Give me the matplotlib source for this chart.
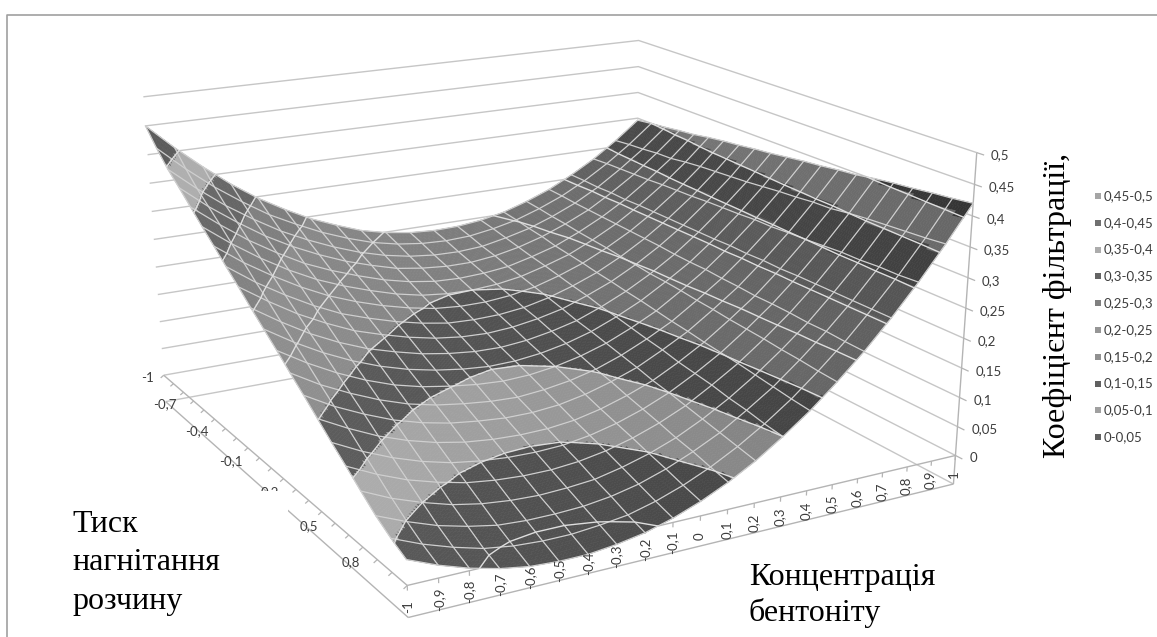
"""
Excel style 3D surface chart, grey bands
"""

import numpy as np
import contourpy
import matplotlib
matplotlib.use("Agg")
import matplotlib.pyplot as plt
from matplotlib.collections import PolyCollection
from matplotlib.patches import Rectangle

# Data
conc = [round(-1 + 0.1 * i, 1) for i in range(21)]
press = [round(-1 + 0.1 * i, 1) for i in range(21)]

# one row per pressure value (-1 ... 1), one column per concentration (-1 ... 1)
filt = [
    [.450, .406, .366, .329, .297, .270, .246, .227, .210, .199, .192, .189, .190, .195, .204, .218, .235, .257, .282, .312, .346],
    [.422, .380, .342, .309, .279, .255, .233, .215, .200, .190, .184, .182, .184, .191, .201, .216, .234, .257, .284, .315, .350],
    [.397, .357, .321, .290, .262, .239, .219, .202, .189, .180, .175, .174, .177, .186, .197, .213, .232, .256, .285, .317, .353],
    [.377, .338, .304, .273, .247, .225, .206, .191, .178, .171, .167, .167, .172, .181, .194, .211, .231, .257, .286, .320, .357],
    [.356, .319, .285, .256, .230, .210, .193, .178, .167, .160, .158, .160, .165, .176, .189, .208, .230, .256, .287, .321, .360],
    [.335, .299, .267, .239, .215, .196, .180, .166, .156, .151, .150, .153, .160, .172, .186, .206, .229, .257, .289, .325, .365],
    [.315, .280, .250, .223, .200, .182, .167, .155, .146, .142, .142, .146, .154, .167, .183, .204, .228, .257, .290, .328, .369],
    [.294, .260, .231, .205, .183, .167, .153, .142, .134, .132, .133, .138, .148, .162, .179, .201, .227, .257, .291, .330, .372],
    [.274, .242, .213, .189, .168, .153, .140, .130, .124, .122, .125, .132, .142, .158, .176, .199, .226, .257, .293, .332, .376],
    [.253, .222, .194, .171, .152, .138, .126, .118, .113, .112, .116, .124, .135, .152, .172, .196, .224, .257, .294, .334, .379],
    [.233, .203, .177, .155, .137, .123, .113, .106, .102, .103, .108, .117, .130, .148, .169, .195, .223, .257, .295, .337, .383],
    [.213, .184, .159, .138, .121, .109, .101, .095, .092, .094, .100, .110, .124, .143, .165, .193, .223, .258, .297, .340, .387],
    [.192, .164, .141, .121, .105, .094, .087, .082, .080, .084, .091, .102, .118, .138, .161, .190, .221, .257, .297, .342, .390],
    [.172, .145, .123, .104, .090, .080, .074, .070, .070, .074, .083, .096, .112, .134, .158, .188, .220, .258, .299, .345, .394],
    [.151, .126, .104, .087, .074, .065, .060, .058, .059, .064, .074, .088, .105, .128, .154, .185, .218, .257, .300, .346, .397],
    [.130, .106, .086, .070, .058, .051, .047, .046, .048, .055, .066, .081, .100, .124, .151, .183, .218, .258, .302, .350, .402],
    [.110, .087, .068, .054, .043, .037, .034, .034, .038, .046, .058, .074, .094, .120, .148, .181, .217, .258, .304, .353, .406],
    [.089, .067, .050, .036, .027, .022, .020, .022, .026, .036, .049, .066, .088, .114, .144, .178, .215, .258, .304, .355, .409],
    [.069, .049, .032, .020, .011, .008, .008, .010, .016, .026, .041, .060, .082, .110, .140, .176, .215, .258, .306, .357, .413],
    [.053, .033, .017, .004, -.003, -.006, -.006, -.002, .004, .016, .032, .052, .076, .104, .136, .173, .213, .258, .306, .359, .416],
    [.040, .020, .004, -.008, -.016, -.019, -.019, -.014, -.006, .007, .024, .045, .070, .100, .133, .171, .212, .258, .308, .362, .420],
]

z_ticks = [0, 0.05, 0.1, 0.15, 0.2, 0.25, 0.3, 0.35, 0.4, 0.45, 0.5]
z_tick_labels = ["0", "0,05", "0,1", "0,15", "0,2", "0,25", "0,3", "0,35", "0,4", "0,45", "0,5"]
conc_labels = ["-1", "-0,9", "-0,8", "-0,7", "-0,6", "-0,5", "-0,4", "-0,3", "-0,2", "-0,1", "0",
               "0,1", "0,2", "0,3", "0,4", "0,5", "0,6", "0,7", "0,8", "0,9", "1"]
press_ticks = [-1, -0.7, -0.4, -0.1, 0.2, 0.5, 0.8]
press_labels = ["-1", "-0,7", "-0,4", "-0,1", "0,2", "0,5", "0,8"]
legend_labels = ["0,45-0,5", "0,4-0,45", "0,35-0,4", "0,3-0,35", "0,25-0,3",
                 "0,2-0,25", "0,15-0,2", "0,1-0,15", "0,05-0,1", "0-0,05"]

# grey of each band, lowest first, and the greys of the legend keys, top first
band_grey = [80, 155, 82, 126, 124, 112, 88, 145, 75, 120]
legend_grey = [165, 112, 172, 100, 128, 150, 145, 96, 160, 96]

# Camera: where a few box corners land in the picture (pixels)
world_pts = [(-1, 1, 0), (1, 1, 0), (-1, -1, 0), (1, -1, 0), (-1, -1, .5), (1, -1, .5),
             (1, 1, .5), (0, 1, 0), (-1, 0, 0), (-1, 1, -.05), (1, 1, -.05), (-1, -1, -.05)]
pixel_pts = [(412, 588), (955, 455), (165, 377), (636, 294), (144, 99), (639, 37),
             (976, 155), (702, 517), (260, 459), (410, 618), (953, 483), (168, 403)]


def fit_camera(world, pixels):
    rows = []
    for (x, y, z), (u, v) in zip(world, pixels):
        rows.append([x, y, z, 1, 0, 0, 0, 0, -u * x, -u * y, -u * z, -u])
        rows.append([0, 0, 0, 0, x, y, z, 1, -v * x, -v * y, -v * z, -v])
    vh = np.linalg.svd(np.array(rows, dtype=float))[2]
    cam = vh[-1].reshape(3, 4)
    if cam[2] @ np.array([0, 0, 0, 1]) < 0:
        cam = -cam
    return cam


CAM = fit_camera(world_pts, pixel_pts)


def project(x, y, z):
    x, y, z = np.broadcast_arrays(np.asarray(x, float), np.asarray(y, float), np.asarray(z, float))
    h = CAM @ np.stack([x.ravel(), y.ravel(), z.ravel(), np.ones(x.size)])
    u = (h[0] / h[2]).reshape(x.shape)
    v = (h[1] / h[2]).reshape(x.shape)
    return u, v, h[2].reshape(x.shape)


def draw_line(ax, x, y, z, **kw):
    u, v, _ = project(x, y, z)
    ax.plot(u, v, solid_capstyle="butt", **kw)


def draw_box(ax):
    wall = "#c6c6c6"
    axis = "#b4b4b4"
    for z in [-0.05] + z_ticks:
        draw_line(ax, [-1, 1, 1], [-1, -1, 1], [z, z, z], color=wall, lw=1.0, zorder=1)
    # floor edges and the lower edges of the base
    draw_line(ax, [-1, 1], [1, 1], [0, 0], color=axis, lw=1.0, zorder=1)
    draw_line(ax, [-1, -1], [-1, 1], [0, 0], color=axis, lw=1.0, zorder=1)
    draw_line(ax, [-1, 1], [1, 1], [-0.05, -0.05], color=axis, lw=1.0, zorder=1)
    draw_line(ax, [-1, -1], [-1, 1], [-0.05, -0.05], color=axis, lw=1.0, zorder=1)
    draw_line(ax, [1, 1], [1, 1], [-0.05, 0.5], color=axis, lw=1.0, zorder=1)

    for x in conc:
        draw_line(ax, [x, x], [1, 1], [0, -0.008], color=axis, lw=0.9, zorder=1)
    for y in press:
        draw_line(ax, [-1, -1.012], [y, y], [0, -0.004], color=axis, lw=0.9, zorder=1)
    for z in z_ticks:
        draw_line(ax, [1, 1], [1, 1.035], [z, z], color=axis, lw=0.9, zorder=1)


def draw_surface(ax):
    xs = np.array(conc)
    ys = np.array(press)
    zz = np.array(filt)
    n = 8
    edge = np.arange(n + 1) / n
    polys, greys, depth = [], [], []
    for j in range(len(ys) - 1):
        for i in range(len(xs) - 1):
            z00, z10, z01, z11 = zz[j, i], zz[j, i + 1], zz[j + 1, i], zz[j + 1, i + 1]
            gx = ((z10 - z00) + (z11 - z01)) / 2 / (xs[i + 1] - xs[i])
            shade = np.clip(1 - 0.5 * gx, 0.7, 1.3)
            # split each cell, so that the band limits run through it
            sx = xs[i] + edge * (xs[i + 1] - xs[i])
            sy = ys[j] + edge * (ys[j + 1] - ys[j])
            gy, gxx = np.meshgrid(edge, edge, indexing="ij")
            sz = (z00 * (1 - gxx) * (1 - gy) + z10 * gxx * (1 - gy)
                  + z01 * (1 - gxx) * gy + z11 * gxx * gy)
            sxx, syy = np.meshgrid(sx, sy)
            u, v, w = project(sxx, syy, sz)
            for b in range(n):
                for a in range(n):
                    mid = sz[b:b + 2, a:a + 2].mean()
                    band = int(np.clip(np.floor(mid / 0.05), 0, 9))
                    g = np.clip(band_grey[band] * shade, 0, 255) / 255
                    polys.append([(u[b, a], v[b, a]), (u[b, a + 1], v[b, a + 1]),
                                  (u[b + 1, a + 1], v[b + 1, a + 1]), (u[b + 1, a], v[b + 1, a])])
                    greys.append((g, g, g))
                    depth.append(w[b, a])
    order = np.argsort(-np.array(depth))
    polys = [polys[k] for k in order]
    greys = [greys[k] for k in order]
    ax.add_collection(PolyCollection(polys, facecolors=greys, edgecolors=greys,
                                     linewidths=0.4, zorder=2))

    # mesh lines
    for k in range(len(xs)):
        u, v, _ = project(xs[k], ys, zz[:, k])
        ax.plot(u, v, color="#cfcfcf", lw=0.9, zorder=3)
        u, v, _ = project(xs, ys[k], zz[k, :])
        ax.plot(u, v, color="#cfcfcf", lw=0.9, zorder=3)

    # lines where the bands meet
    gen = contourpy.contour_generator(xs, ys, zz)
    for level in [0.05 * i for i in range(10)]:
        for line in gen.lines(level):
            lx, ly = line[:, 0], line[:, 1]
            # z stays the level, the line lies in the surface
            u, v, _ = project(lx, ly, np.full(len(lx), level))
            ax.plot(u, v, color="#dedede", lw=1.0, zorder=4)


def draw_labels(ax):
    tick_font = dict(family="Lato", fontsize=9.5, color="#3c3c3c", zorder=6)
    for z, lab in zip(z_ticks, z_tick_labels):
        u, v, _ = project(1, 1, z)
        ax.text(u + 14, v + 3, lab, ha="left", va="center", **tick_font)
    for x, lab in zip(conc, conc_labels):
        u, v, _ = project(x, 1, -0.033)
        ax.text(u, v, lab, ha="center", va="center", rotation=90, **tick_font)
    for y, lab in zip(press_ticks, press_labels):
        u, v, _ = project(-1, y, 0)
        shift = -10 if lab == "-1" else -17
        # below the white box, the box cuts the 0,2 label
        ax.text(u + shift, v + 3, lab, ha="right", va="center", family="Lato",
                fontsize=9.5, color="#3c3c3c", zorder=4.5)

    # white text box, it hides a part of the axis in the original
    ax.add_patch(Rectangle((60, 491), 228, 139, fc="white", ec="none", zorder=5))
    serif = dict(family="Liberation Serif", fontsize=23, color="black", zorder=7)
    ax.text(72, 524, "Тиск", ha="left", va="center", **serif)
    ax.text(72, 562, "нагнітання", ha="left", va="center", **serif)
    ax.text(72, 602, "розчину", ha="left", va="center", **serif)
    ax.text(749, 577, "Концентрація", ha="left", va="center", **serif)
    ax.text(749, 613, "бентоніту", ha="left", va="center", **serif)
    ax.text(1058, 458, "Коефіцієнт фільтрації,", ha="center", va="bottom", rotation=90, **serif)

    # legend
    for i, (lab, g) in enumerate(zip(legend_labels, legend_grey)):
        ly = 196 + i * 26.8
        ax.add_patch(Rectangle((1095, ly - 3), 6, 6, fc=(g / 255, g / 255, g / 255), ec="none", zorder=6))
        ax.text(1104, ly, lab, ha="left", va="center", family="Lato", fontsize=9.5, color="#3c3c3c", zorder=6)


def main():
    fig = plt.figure(figsize=(11.57, 6.37), dpi=100)
    ax = fig.add_axes([0, 0, 1, 1])
    ax.set_xlim(0, 1157)
    ax.set_ylim(637, 0)
    ax.axis("off")

    # picture frame
    ax.plot([7, 7, 1157], [637, 15, 15], color="#a0a0a0", lw=1.2, zorder=1)

    draw_box(ax)
    draw_surface(ax)
    draw_labels(ax)

    fig.savefig("out.png", dpi=100, facecolor="white")


if __name__ == "__main__":
    main()
